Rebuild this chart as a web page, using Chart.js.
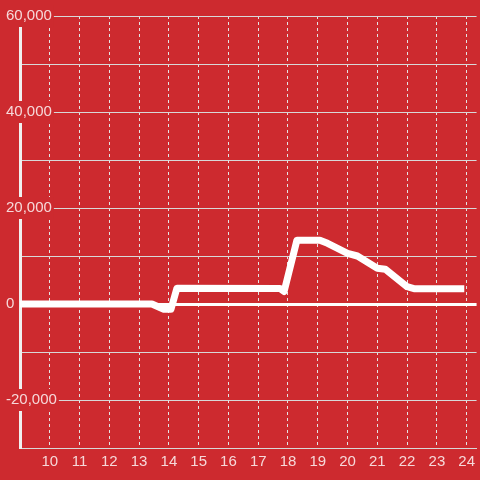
<!DOCTYPE html>
<html>
<head>
<meta charset="utf-8">
<script src="https://cdn.jsdelivr.net/npm/chart.js@4"></script>
<style>
  html, body { margin: 0; padding: 0; background: #cd2a2f; }
  #wrap { width: 480px; height: 480px; }
</style>
</head>
<body>
<div id="wrap"><canvas id="chart" width="480" height="480"></canvas></div>
<script>
// Hours of the day and the values
const hours = [9.0, 13.43, 13.83, 14.07, 14.27, 17.73, 17.87, 18.3, 19.07, 19.33, 20.0, 20.33, 21.0, 21.27, 22.0, 22.23, 23.92];
const values = [0, 0, -1100, -1100, 3300, 3250, 2600, 13300, 13300, 12650, 10560, 10000, 7440, 7230, 3600, 3200, 3200];
const xTicks = [10, 11, 12, 13, 14, 15, 16, 17, 18, 19, 20, 21, 22, 23, 24];
const yLabelled = [-20000, 0, 20000, 40000, 60000];

const bg = '#cd2a2f';
const labelColor = 'rgba(255,255,255,0.82)';

const points = hours.map((h, i) => ({ x: h, y: values[i] }));

// y labels: mirrored with negative padding so they sit over the axis line,
// axis width forced to 0 so the plot starts right at the line
const ctx = document.getElementById('chart');
new Chart(ctx, {
    type: 'line',
    data: {
        datasets: [{
            data: points,
            borderColor: '#ffffff',
            borderWidth: 7,
            pointRadius: 0,
            tension: 0,
            borderJoinStyle: 'round'
        }]
    },
    options: {
        responsive: false,
        animation: false,
        layout: { padding: { left: 20, top: 16, right: 0, bottom: 4 } },
        plugins: { legend: { display: false }, tooltip: { enabled: false } },
        scales: {
            x: {
                type: 'linear',
                min: 9,
                max: 24.333,
                afterBuildTicks: (scale) => {
                    scale.ticks = xTicks.map(v => ({ value: v }));
                },
                grid: {
                    color: '#e4e4e4',
                    lineWidth: 1,
                    drawTicks: false
                },
                border: { display: true, color: '#d8d8d8', width: 1, dash: [3, 3] },
                ticks: {
                    color: labelColor,
                    font: { family: 'Liberation Sans', size: 15 },
                    padding: 5,
                    maxRotation: 0,
                    callback: (v) => String(v)
                }
            },
            y: {
                min: -30000,
                max: 60000,
                afterFit: (scale) => { scale.width = 0; },
                ticks: {
                    stepSize: 10000,
                    mirror: true,
                    crossAlign: 'near',
                    padding: -14,
                    color: labelColor,
                    font: { family: 'Liberation Sans', size: 15 },
                    showLabelBackdrop: true,
                    backdropPadding: 2,
                    backdropColor: (c) => (c.tick && yLabelled.includes(c.tick.value)) ? bg : 'rgba(0,0,0,0)',
                    callback: (v) => yLabelled.includes(v) ? v.toLocaleString('en-US') : ''
                },
                grid: {
                    drawTicks: false,
                    color: (c) => c.tick && c.tick.value === 0 ? '#ffffff' : '#d8d8d8',
                    lineWidth: (c) => c.tick && c.tick.value === 0 ? 3 : 1
                },
                border: { display: true, color: '#f0f0f0', width: 3 }
            }
        }
    }
});
</script>
</body>
</html>
